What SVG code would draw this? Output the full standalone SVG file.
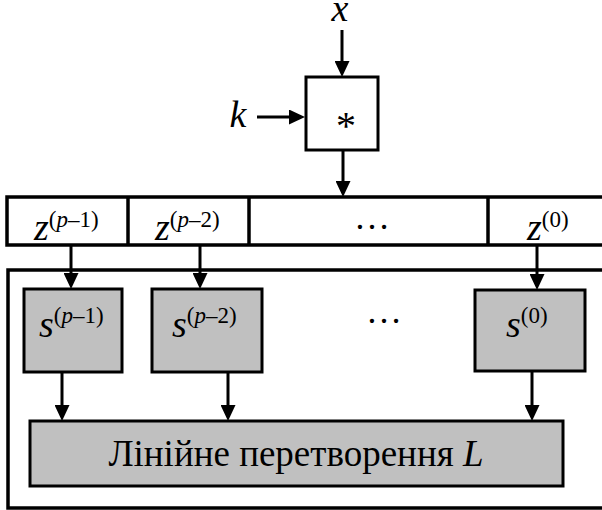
<svg xmlns="http://www.w3.org/2000/svg" width="602" height="510" viewBox="0 0 602 510">
  <style>
    .box { fill: #ffffff; stroke: #000000; stroke-width: 3; }
    .sbox { fill: #c0c0c0; stroke: #000000; stroke-width: 3; }
    .rule { fill: none; stroke: #000000; stroke-width: 3.5; }
    .wire { fill: none; stroke: #000000; stroke-width: 3; marker-end: url(#head); }
    .t { font-family: "Liberation Serif", "Times New Roman", serif; fill: #000000; }
    .v { font-size: 38px; font-style: italic; }
    .sup { font-size: 23px; font-style: normal; }
    .it { font-style: italic; }
    .dots { font-size: 36px; }
  </style>
  <defs>
    <marker id="head" markerUnits="userSpaceOnUse" markerWidth="16" markerHeight="15" refX="12" refY="7.5" orient="auto">
      <path d="M0,0 L16,7.5 L0,15 Z" fill="#000000"/>
    </marker>
  </defs>

  <!-- multiplier -->
  <g id="mul">
    <rect class="box" x="306" y="77" width="72" height="73"/>
    <text class="t" x="346" y="139" font-size="40" text-anchor="middle">*</text>
  </g>
  <g id="input-x">
    <text class="t v" x="340" y="21" text-anchor="middle">x</text>
  </g>
  <g id="input-k">
    <text class="t v" x="238" y="127" text-anchor="middle">k</text>
  </g>

  <!-- z register strip -->
  <g id="z-strip">
    <rect class="rule" x="7" y="197" width="610" height="48"/>
    <line class="rule" x1="128" y1="197" x2="128" y2="245"/>
    <line class="rule" x1="249" y1="197" x2="249" y2="245"/>
    <line class="rule" x1="488" y1="197" x2="488" y2="245"/>
  </g>
  <g id="z-p1">
    <text class="t v" x="34" y="240">z<tspan class="sup" y="227">(<tspan class="it">p</tspan>–1)</tspan></text>
  </g>
  <g id="z-p2">
    <text class="t v" x="155" y="240">z<tspan class="sup" y="227">(<tspan class="it">p</tspan>–2)</tspan></text>
  </g>
  <g id="z-dots">
    <text class="t dots" x="372" y="229" text-anchor="middle">…</text>
  </g>
  <g id="z-0">
    <text class="t v" x="527" y="240">z<tspan class="sup" y="227">(0)</tspan></text>
  </g>

  <!-- substitution and linear layer -->
  <g id="layer">
    <rect class="rule" x="8" y="270" width="610" height="238"/>
  </g>
  <g id="s-p1">
    <rect class="sbox" x="24" y="289" width="98" height="83"/>
    <text class="t v" x="39" y="337">s<tspan class="sup" y="323">(<tspan class="it">p</tspan>–1)</tspan></text>
  </g>
  <g id="s-p2">
    <rect class="sbox" x="152" y="289" width="110" height="83"/>
    <text class="t v" x="172" y="337">s<tspan class="sup" y="323">(<tspan class="it">p</tspan>–2)</tspan></text>
  </g>
  <g id="s-dots">
    <text class="t dots" x="384" y="323" text-anchor="middle">…</text>
  </g>
  <g id="s-0">
    <rect class="sbox" x="475" y="290" width="110" height="81"/>
    <text class="t v" x="506" y="337">s<tspan class="sup" y="323">(0)</tspan></text>
  </g>
  <g id="linear-L">
    <rect class="sbox" x="30" y="421" width="533" height="65"/>
    <text class="t" x="296" y="466" font-size="37" text-anchor="middle">Лінійне перетворення <tspan class="it">L</tspan></text>
  </g>

  <!-- connectors -->
  <g id="connectors">
    <line class="wire" x1="342" y1="30" x2="342" y2="73"/>
    <line class="wire" x1="257" y1="117" x2="301" y2="117"/>
    <line class="wire" x1="343" y1="150" x2="343" y2="193"/>
    <line class="wire" x1="71" y1="245" x2="71" y2="285"/>
    <line class="wire" x1="200" y1="245" x2="200" y2="285"/>
    <line class="wire" x1="537" y1="245" x2="537" y2="286"/>
    <line class="wire" x1="62" y1="372" x2="62" y2="417"/>
    <line class="wire" x1="228" y1="372" x2="228" y2="417"/>
    <line class="wire" x1="532" y1="371" x2="532" y2="417"/>
  </g>
</svg>
